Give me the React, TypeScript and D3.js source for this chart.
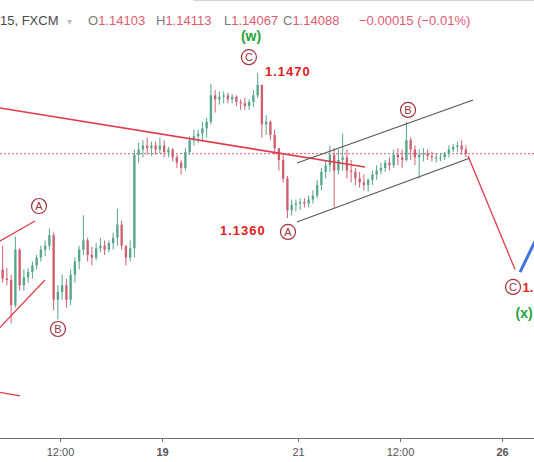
import React from 'react';
import * as d3 from 'd3';

const W = 534;
const H = 462;

// ---- price data (30-minute bars, trading-time hours) ----
const firstOpen = 1.1321;
const barStartHour = 5;
const barStepHours = 0.5;

const highs = [
  1.1339, 1.1322, 1.1317, 1.1346, 1.1337, 1.1321, 1.1322, 1.1327, 1.1332, 1.1339,
  1.1343, 1.1352, 1.1349, 1.1309, 1.1317, 1.1314, 1.1321, 1.1330, 1.1339, 1.1362,
  1.1345, 1.1338, 1.1341, 1.1345, 1.1343, 1.1343, 1.1349, 1.1367, 1.1358, 1.1339,
  1.1343, 1.1412, 1.1417, 1.1419, 1.1421, 1.1418, 1.1418, 1.1421, 1.1419, 1.1414,
  1.1413, 1.1408, 1.1404, 1.1413, 1.1422, 1.1427, 1.1427, 1.1433, 1.1436, 1.1462,
  1.1457, 1.1456, 1.1456, 1.1455, 1.1454, 1.1453, 1.1450, 1.1451, 1.1450, 1.1457,
  1.1470, 1.1461, 1.1438, 1.1434, 1.1427, 1.1413, 1.1408, 1.1392, 1.1374, 1.1374,
  1.1375, 1.1375, 1.1377, 1.1381, 1.1389, 1.1398, 1.1404, 1.1415, 1.1413, 1.1412,
  1.1424, 1.1412, 1.1404, 1.1398, 1.1395, 1.1393, 1.1390, 1.1396, 1.1400, 1.1402,
  1.1404, 1.1406, 1.1412, 1.1413, 1.1412, 1.1433, 1.1421, 1.1415, 1.1412, 1.1413,
  1.1412, 1.1410, 1.1409, 1.1409, 1.1410, 1.1415, 1.1416, 1.1418, 1.1419, 1.1415,
];

const lows = [
  1.1311, 1.1309, 1.1280, 1.1292, 1.1305, 1.1305, 1.1311, 1.1314, 1.1321, 1.1327,
  1.1331, 1.1336, 1.1290, 1.1283, 1.1298, 1.1292, 1.1294, 1.1311, 1.1321, 1.1332,
  1.1327, 1.1324, 1.1328, 1.1334, 1.1332, 1.1334, 1.1336, 1.1339, 1.1336, 1.1324,
  1.1327, 1.1330, 1.1402, 1.1406, 1.1408, 1.1407, 1.1408, 1.1409, 1.1406, 1.1406,
  1.1403, 1.1398, 1.1393, 1.1396, 1.1408, 1.1415, 1.1417, 1.1419, 1.1421, 1.1431,
  1.1440, 1.1446, 1.1447, 1.1447, 1.1447, 1.1445, 1.1442, 1.1442, 1.1442, 1.1444,
  1.1451, 1.1421, 1.1423, 1.1419, 1.1408, 1.1396, 1.1387, 1.1360, 1.1362, 1.1365,
  1.1366, 1.1368, 1.1368, 1.1371, 1.1375, 1.1381, 1.1390, 1.1395, 1.1368, 1.1393,
  1.1396, 1.1390, 1.1387, 1.1385, 1.1383, 1.1381, 1.1380, 1.1385, 1.1389, 1.1393,
  1.1395, 1.1396, 1.1398, 1.1400, 1.1398, 1.1403, 1.1404, 1.1400, 1.1390, 1.1403,
  1.1404, 1.1403, 1.1402, 1.1403, 1.1404, 1.1406, 1.1410, 1.1410, 1.1408, 1.1406,
];

const closes = [
  1.1314, 1.1313, 1.1294, 1.1336, 1.1309, 1.1315, 1.1319, 1.1324, 1.1330, 1.1336,
  1.1339, 1.1347, 1.1298, 1.1304, 1.1309, 1.1298, 1.1317, 1.1327, 1.1336, 1.1343,
  1.1332, 1.1330, 1.1337, 1.1339, 1.1336, 1.1341, 1.1345, 1.1355, 1.1339, 1.1330,
  1.1337, 1.1408, 1.1412, 1.1415, 1.1413, 1.1415, 1.1412, 1.1415, 1.1410, 1.1412,
  1.1406, 1.1402, 1.1398, 1.1410, 1.1419, 1.1422, 1.1424, 1.1428, 1.1433, 1.1453,
  1.1450, 1.1452, 1.1453, 1.1450, 1.1452, 1.1448, 1.1447, 1.1445, 1.1448, 1.1453,
  1.1461, 1.1431, 1.1433, 1.1423, 1.1413, 1.1404, 1.1390, 1.1366, 1.1370, 1.1371,
  1.1372, 1.1371, 1.1374, 1.1377, 1.1385, 1.1395, 1.1400, 1.1408, 1.1396, 1.1404,
  1.1406, 1.1396, 1.1395, 1.1390, 1.1387, 1.1385, 1.1389, 1.1393, 1.1396, 1.1398,
  1.1402, 1.1400, 1.1408, 1.1406, 1.1404, 1.1419, 1.1412, 1.1406, 1.1408, 1.1409,
  1.1407, 1.1406, 1.1406, 1.1406, 1.1409, 1.1412, 1.1414, 1.1415, 1.1412, 1.14088,
];

const lastPrice = 1.14088;

// ---- axis ----
const tickHours = [12, 24, 40, 52, 64];
const tickLabels = ['12:00', '19', '21', '12:00', '26'];
const tickBold = [false, true, false, false, true];

// ---- header ----
const symbolLabel = '15, FXCM';
const ohlcKeys = ['O', 'H', 'L', 'C'];
const ohlcValues = ['1.14103', '1.14113', '1.14067', '1.14088'];
const changeLabel = '\u22120.00015 (\u22120.01%)';

// ---- drawings (hour, price) ----
const redTrend: [number, number][] = [[4.94, 1.14434], [47.88, 1.13987]];
const channelUpper: [number, number][] = [[39.88, 1.14017], [60.59, 1.14495]];
const channelLower: [number, number][] = [[39.88, 1.1357], [60.23, 1.14055]];
const projection: [number, number][] = [[60.0, 1.1407], [65.53, 1.1321]];
const blueLeg: [number, number][] = [[66.12, 1.1319], [68.3, 1.13479]];
const leftLine1: [number, number][] = [[4.5, 1.1341], [9.06, 1.13577]];
const leftLine2: [number, number][] = [[4.5, 1.1274], [10.23, 1.1313]];
const leftLine3: [number, number][] = [[4.5, 1.12283], [7.29, 1.1225]];

const circleLabels = ['A', 'B', 'C', 'A', 'B', 'C'];
const circleHours = [9.53, 11.76, 34.22, 38.82, 52.94, 65.29];
const circlePrices = [1.13691, 1.12758, 1.1482, 1.13494, 1.1442, 1.13077];

const priceTexts = ['1.1470', '1.1360', '1.'];
const priceTextHours = [36.12, 30.82, 66.4];
const priceTextPrices = [1.14677, 1.13471, 1.13039];
const priceTextSpacing = [1, 1, 0];

const waveTexts = ['(w)', '(x)'];
const waveHours = [34.47, 66.59];
const wavePrices = [1.14945, 1.12841];

const UP = '#55a68a';
const DOWN = '#cf5f6f';
const RED = '#e23a4a';
const LABEL_RED = '#e02020';
const GREEN = '#22a53a';
const CIRCLE = '#a3323f';

export default function App() {
  const x = d3.scaleLinear().domain([4.94, 67.76]).range([0, W]);
  const y = d3.scaleLinear().domain([1.147, 1.136]).range([73, 218]);
  const line = d3
    .line<[number, number]>()
    .x((d) => x(d[0]))
    .y((d) => y(d[1]));

  const candles = closes.map((c, i) => {
    const o = i === 0 ? firstOpen : closes[i - 1];
    const t = barStartHour + barStepHours * i + barStepHours / 2;
    return { t, o, c, h: Math.max(highs[i], o, c), l: Math.min(lows[i], o, c) };
  });
  const bw = (x(barStepHours) - x(0)) * 0.55;

  const keyX = [88, 156, 224, 283];

  return (
    <svg
      width={W}
      height={H}
      style={{ position: 'absolute', left: 0, top: 0, display: 'block', background: '#fff' }}
      fontFamily="'Liberation Sans', Arial, sans-serif"
    >
      <defs>
        <clipPath id="plot">
          <rect x={0} y={30} width={W} height={407} />
        </clipPath>
      </defs>
      <rect x={0} y={0} width={W} height={H} fill="#fff" />
      <line x1={193} x2={W} y1={0.5} y2={0.5} stroke="#d4d4d4" />

      <g clipPath="url(#plot)">
        <line
          x1={0}
          x2={W}
          y1={y(lastPrice)}
          y2={y(lastPrice)}
          stroke="#e05a70"
          strokeWidth={1}
          strokeDasharray="2,2"
        />
        {candles.map((d, i) => {
          const col = d.c >= d.o ? UP : DOWN;
          const top = y(Math.max(d.o, d.c));
          const bot = y(Math.min(d.o, d.c));
          return (
            <g key={i}>
              <line x1={x(d.t)} x2={x(d.t)} y1={y(d.h)} y2={y(d.l)} stroke={col} strokeWidth={1} />
              <rect x={x(d.t) - bw / 2} y={top} width={bw} height={Math.max(1, bot - top)} fill={col} />
            </g>
          );
        })}
        <path d={line(redTrend) || ''} stroke={RED} strokeWidth={1.6} fill="none" />
        <path d={line(channelUpper) || ''} stroke="#555" strokeWidth={1.1} fill="none" />
        <path d={line(channelLower) || ''} stroke="#555" strokeWidth={1.1} fill="none" />
        <path d={line(projection) || ''} stroke={RED} strokeWidth={1.3} fill="none" />
        <path d={line(blueLeg) || ''} stroke="#3f73e0" strokeWidth={3} fill="none" />
        <path d={line(leftLine1) || ''} stroke={RED} strokeWidth={1.3} fill="none" />
        <path d={line(leftLine2) || ''} stroke={RED} strokeWidth={1.3} fill="none" />
        <path d={line(leftLine3) || ''} stroke={RED} strokeWidth={1.3} fill="none" />

        {circleLabels.map((lab, i) => (
          <g key={'c' + i} transform={`translate(${x(circleHours[i])},${y(circlePrices[i])})`}>
            <circle r={7.5} fill="none" stroke={CIRCLE} strokeWidth={1.2} />
            <text textAnchor="middle" dy="0.36em" fontSize={11} fill={CIRCLE}>
              {lab}
            </text>
          </g>
        ))}

        {priceTexts.map((t, i) => (
          <text
            key={'p' + i}
            x={x(priceTextHours[i])}
            y={y(priceTextPrices[i])}
            fontSize={13}
            fontWeight="bold"
            letterSpacing={priceTextSpacing[i]}
            fill={LABEL_RED}
          >
            {t}
          </text>
        ))}
        {waveTexts.map((t, i) => (
          <text
            key={'w' + i}
            x={x(waveHours[i])}
            y={y(wavePrices[i])}
            textAnchor="middle"
            fontSize={14}
            fontWeight="bold"
            fill={GREEN}
          >
            {t}
          </text>
        ))}
      </g>

      <text y={25} fontSize={13}>
        <tspan x={0} fill="#4a4a4a">{symbolLabel}</tspan>
        <tspan x={67} fill="#bdbdbd" fontSize={10}>{'\u25BE'}</tspan>
      </text>
      {ohlcKeys.map((k, i) => (
        <text key={k} y={25} fontSize={13}>
          <tspan x={keyX[i]} fill="#7a7a7a">{k}</tspan>
          <tspan fill="#e05a70">{ohlcValues[i]}</tspan>
        </text>
      ))}
      <text x={359} y={25} fontSize={13} fill="#e05a70">
        {changeLabel}
      </text>

      <line x1={0} x2={W} y1={438.5} y2={438.5} stroke="#6e6e6e" strokeWidth={1} />
      {tickHours.map((h, i) => (
        <g key={'t' + i} transform={`translate(${Math.round(x(h)) + 0.5},0)`}>
          <line y1={438.5} y2={442} stroke="#6e6e6e" />
          <text
            y={456}
            textAnchor="middle"
            fontSize={11}
            fill="#555"
            fontWeight={tickBold[i] ? 'bold' : 'normal'}
          >
            {tickLabels[i]}
          </text>
        </g>
      ))}
    </svg>
  );
}
